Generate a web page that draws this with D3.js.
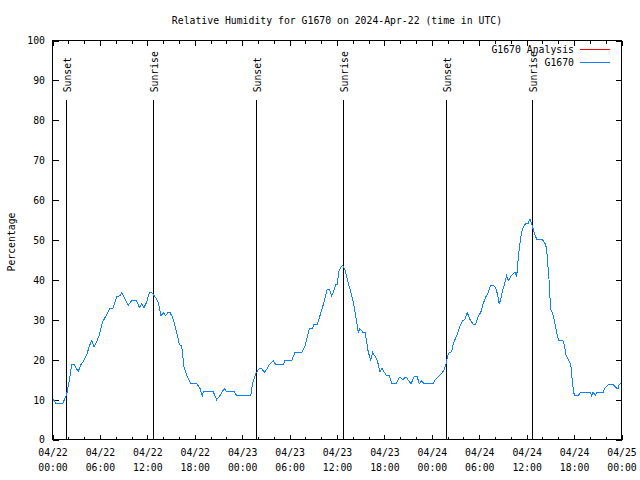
<!DOCTYPE html>
<html><head><meta charset="utf-8">
<script src="https://cdn.jsdelivr.net/npm/d3@7"></script>
<style>
html,body{margin:0;padding:0;background:#fff;}
svg{display:block;}
text{font-family:"DejaVu Sans Mono","Liberation Mono",monospace;font-size:9.8px;fill:#000;}
</style></head>
<body>
<svg id="chart" width="640" height="480"></svg>
<script>
// ---- data ----
const startDate = "2024-04-22T00:00:00Z";
const endDate = "2024-04-25T00:00:00Z";
const titleText = "Relative Humidity for G1670 on 2024-Apr-22 (time in UTC)";
const yLabel = "Percentage";
// hours after start, relative humidity (%)
const hours = [0.1,0.44,1.29,1.8,2.13,2.43,2.76,3.26,3.57,3.9,4.33,4.66,4.96,5.25,5.59,5.92,6.35,6.77,7.19,7.62,8.12,8.54,8.76,9.17,9.59,10.02,10.65,10.98,11.29,11.58,11.92,12.25,12.55,12.97,13.39,13.73,14.02,14.32,14.58,14.87,15.21,15.5,15.79,16.04,16.35,16.64,16.89,17.18,17.48,18.24,18.66,18.95,19.08,20.34,20.77,21.19,21.74,22.04,23.0,23.3,25.08,25.33,25.75,26.16,26.47,26.8,27.18,27.43,27.94,28.24,29.2,29.42,30.26,30.68,31.53,31.95,32.24,32.49,32.92,33.08,33.5,33.84,34.19,34.48,34.77,35.02,35.32,35.61,35.87,36.03,36.25,36.5,36.72,37.01,37.22,37.55,37.85,38.14,38.4,38.69,38.9,39.25,39.54,39.75,39.95,40.26,40.51,40.8,41.09,41.43,41.69,41.94,42.28,42.61,42.95,43.46,43.96,44.31,44.72,45.36,45.77,46.15,46.41,46.71,47.0,48.18,48.39,48.81,49.24,49.53,49.78,50.08,50.5,50.71,51.05,51.34,51.56,51.9,52.19,52.48,52.82,53.24,53.54,53.87,54.21,54.5,54.85,55.14,55.44,55.77,56.11,56.33,56.53,56.71,56.96,57.25,57.46,57.67,57.97,58.3,58.52,58.73,58.93,59.15,59.36,59.65,59.91,60.2,60.41,60.63,60.83,61.05,61.26,62.02,62.31,62.53,62.65,62.82,62.94,63.07,63.28,63.49,63.7,63.87,64.04,64.55,64.75,64.97,65.26,65.47,65.69,65.76,65.98,66.1,66.52,66.83,68.0,68.22,68.42,68.67,68.93,69.69,69.9,70.32,70.95,71.39,71.56,71.71,71.9];
const rh = [10,9,9,11.4,14.9,18.7,18.7,17,18.7,19.5,21.2,23.4,24.8,23.1,24.5,26.2,29.5,31,32.7,32.8,35.8,36,36.9,35.2,33.7,34.8,34.8,33,34,33,34.5,36.8,36.8,35.8,34.4,31,31.8,31,31.8,31.8,30.6,28.4,26.2,23.9,23.4,18.2,16.6,15.3,14,14,12.8,11,12,12,10,11,12.8,12,12,11,11,14.1,16.6,17.8,17.8,16.8,17.8,18.8,19.8,18.8,18.8,19.8,19.8,21.8,21.8,23.4,25.8,27.8,27.8,28.9,28.9,31,33.3,35.4,37.7,37.7,36,37.3,38.9,38.9,42.2,43.2,43.7,42.5,40.8,38.3,36.2,33.7,30.6,26.9,27.8,26.9,26.9,24.5,22,19.9,21.8,20.9,19.9,17,17.8,17,16,16,14,14,15.7,15,15.7,14,15.7,15.7,14,14.7,14,14,14.9,15.7,16.6,17.4,18.7,21.6,22,24.1,25.6,27,28.4,29.8,30.1,31.8,30.1,28.9,28.9,30.8,32,34.1,35.8,36.8,38.7,38.7,37.9,36.2,34,35.1,37.5,39.3,41,39.8,40.8,41.5,41.9,40.7,45.4,49.2,52.1,53.5,54.2,54.2,55.2,54,52.7,51.3,50.2,50,49.2,47.9,44.3,40.4,35.8,32.6,31.6,29.9,27.9,26.2,24.9,24.9,23.9,21.2,20.1,19.3,17.4,14.5,11.6,11,11,11.9,11.9,11,11.9,11,11.9,11.9,12.8,13.8,13.8,12.8,12.8,13.8,14];
const eventHours = [1.71, 12.76, 25.78, 36.79, 49.82, 60.72];
const eventLabels = ["Sunset","Sunrise","Sunset","Sunrise","Sunset","Sunrise"];
const eventTop = 85, eventLabelAt = 87;
const yTicks = [0,10,20,30,40,50,60,70,80,90,100];
const legendLabels = ["G1670 Analysis","G1670"];
const legendColors = ["#ff0000","#1080ff"];

// ---- layout ----
const L = 52.5, R = 621.5, T = 40.5, B = 439.5;
const svg = d3.select("#chart");
const t0 = new Date(startDate);
const x = d3.scaleUtc().domain([t0, new Date(endDate)]).range([L, R]);
const y = d3.scaleLinear().domain([0, 100]).range([B, T]);
const toDate = h => new Date(t0.getTime() + h * 3600e3);

// title
svg.append("text").attr("x", 337).attr("y", 23.5).attr("text-anchor", "middle").text(titleText);
// y label
svg.append("text").attr("transform", "translate(14.5,242) rotate(-90)").attr("text-anchor", "middle").text(yLabel);

const g = svg.append("g").attr("shape-rendering", "crispEdges");

// major/minor ticks on x (bottom and top mirror)
const major = x.ticks(d3.utcHour.every(6));
const minor = x.ticks(d3.utcHour.every(2)).filter(d => d.getUTCHours() % 6 !== 0);
const xb = d3.axisBottom(x).tickValues(major).tickSizeInner(-5).tickSizeOuter(0).tickPadding(9)
  .tickFormat(d => "");
const xAx = g.append("g").attr("transform", `translate(0,${B})`).call(xb);
xAx.select(".domain").remove();
xAx.selectAll(".tick").each(function(d) {
  const t = d3.select(this).select("text").text(null).attr("y", 16).attr("dy", null);
  t.append("tspan").attr("x", 0).attr("y", 16.5).text(d3.utcFormat("%m/%d")(d));
  t.append("tspan").attr("x", 0).attr("y", 31.5).text(d3.utcFormat("%H:%M")(d));
});
const xbm = d3.axisBottom(x).tickValues(minor).tickSizeInner(-3).tickSizeOuter(0).tickFormat("");
g.append("g").attr("transform", `translate(0,${B})`).call(xbm).select(".domain").remove();
const xt = d3.axisTop(x).tickValues(major).tickSizeInner(-5).tickSizeOuter(0).tickFormat("");
g.append("g").attr("transform", `translate(0,${T})`).call(xt).select(".domain").remove();
const xtm = d3.axisTop(x).tickValues(minor).tickSizeInner(-3).tickSizeOuter(0).tickFormat("");
g.append("g").attr("transform", `translate(0,${T})`).call(xtm).select(".domain").remove();

// y ticks
const yl = d3.axisLeft(y).tickValues(yTicks).tickSizeInner(-6).tickSizeOuter(0).tickPadding(7).tickFormat(d3.format("d"));
const yAx = g.append("g").attr("transform", `translate(${L},0)`).call(yl);
yAx.select(".domain").remove();
yAx.selectAll("text").attr("x", 45 - L).attr("dy", "0.35em");
const yr = d3.axisRight(y).tickValues(yTicks).tickSizeInner(-6).tickSizeOuter(0).tickFormat("");
g.append("g").attr("transform", `translate(${R},0)`).call(yr).select(".domain").remove();

svg.selectAll(".tick line").attr("stroke", "#000");
svg.selectAll(".tick text").attr("fill", "#000").style("font-family", null).style("font-size", null)
  .attr("font-family", null).attr("font-size", null);

// border
g.append("rect").attr("x", L).attr("y", T).attr("width", R - L).attr("height", B - T)
  .attr("fill", "none").attr("stroke", "#000");

// events
const ev = eventHours.map((h, i) => ({ t: toDate(h), label: eventLabels[i] }));
g.selectAll("line.ev").data(ev).enter().append("line")
  .attr("x1", d => Math.round(x(d.t)) + 0.5).attr("x2", d => Math.round(x(d.t)) + 0.5)
  .attr("y1", y(eventTop)).attr("y2", B).attr("stroke", "#000");
svg.selectAll("text.ev").data(ev).enter().append("text")
  .attr("transform", d => `translate(${Math.round(x(d.t)) + 5},${y(eventLabelAt)}) rotate(-90)`)
  .text(d => d.label);

// data line
const pts = hours.map((h, i) => ({ t: toDate(h), v: rh[i] }));
svg.append("path").datum(pts)
  .attr("fill", "none").attr("stroke", legendColors[1]).attr("stroke-width", 1)
  .attr("shape-rendering", "crispEdges")
  .attr("d", d3.line().x(d => x(d.t)).y(d => y(d.v)));

// legend
legendLabels.forEach((lab, i) => {
  const ly = 49.5 + i * 13;
  svg.append("text").attr("x", 574).attr("y", ly + 3.5).attr("text-anchor", "end").text(lab);
  svg.append("line").attr("x1", 580).attr("x2", 610).attr("y1", ly).attr("y2", ly)
    .attr("stroke", legendColors[i]).attr("shape-rendering", "crispEdges");
});
</script>
</body></html>
